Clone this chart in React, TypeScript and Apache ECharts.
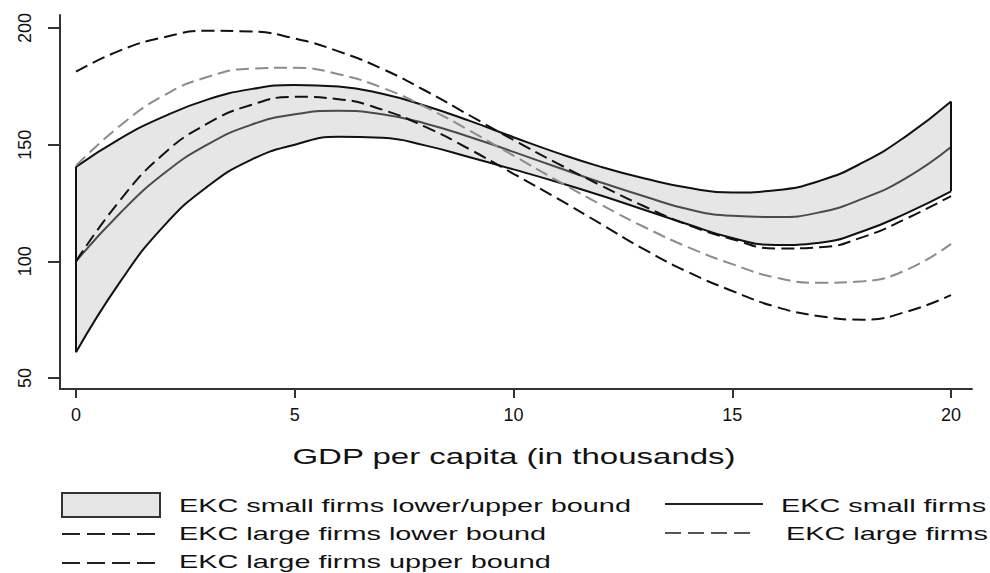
import React, { useEffect, useRef } from "react";
import * as echarts from "echarts";

const gdp = [0, 1, 2, 3, 4, 5, 6, 7, 8, 9, 10, 11, 12, 13, 14, 15, 16, 17, 18, 19, 20];
const smallLower = [61, 91, 115, 132, 143.5, 150, 153.4, 153, 149.6, 144.6, 139.4, 134, 128.2, 122, 115.8, 110, 107, 108, 113, 120.8, 130];
const smallUpper = [140.5, 152.5, 162, 169.3, 173.8, 175.6, 174.9, 171.8, 166.6, 160.2, 153.2, 146.5, 140.5, 135.5, 131.5, 129.5, 130.5, 134.5, 142.5, 154, 168.5];
const smallFit = [100, 120.5, 137.5, 150, 158.5, 163, 164.5, 163, 159, 153.3, 146.9, 140.3, 133.8, 127.8, 122.3, 119.5, 119, 121, 127, 136, 149];
const largeLower = [100, 126, 146, 159, 167, 170.5, 169.5, 165, 157.5, 148, 137.5, 127, 116, 105, 95.3, 87.3, 80.5, 76.5, 75, 78.5, 85.5];
const largeUpper = [181.3, 190.3, 196, 198.8, 198.5, 195.5, 190, 182.5, 173, 162.5, 152, 142, 132.5, 123.5, 115.5, 109.5, 105.5, 106, 110.5, 118.5, 128];
const largeFit = [141, 158, 171, 179, 182.6, 183, 180.2, 174.4, 166, 156, 145.3, 134.6, 124.3, 114.6, 106, 98.8, 93, 90.8, 91.5, 96.5, 107.5];

const xTicks = [0, 5, 10, 15, 20];
const yTicks = [50, 100, 150, 200];
const xTitle = "GDP per capita (in thousands)";
const legendNames = [
  "EKC small firms lower/upper bound",
  "EKC small firms",
  "EKC large firms lower bound",
  "EKC large firms",
  "EKC large firms upper bound",
];

const FONT = '"Liberation Sans", Arial, Helvetica, sans-serif';
const pairs = (ys: number[]) => gdp.map((x, i) => [x, ys[i]]);
const DASH = [13, 6];

export default function App() {
  const ref = useRef<HTMLDivElement>(null);
  useEffect(() => {
    document.body.style.margin = "0";
    const chart = echarts.init(ref.current!, undefined, { renderer: "svg" });
    const last = gdp.length - 1;
    const legendText = (text: string, x: number, y: number) => ({
      type: "text",
      x,
      y,
      scaleX: 1.56,
      style: {
        text,
        fontSize: 18.5,
        fontFamily: FONT,
        fill: "#111",
        textAlign: "left",
        textVerticalAlign: "middle",
      },
    });
    const option: any = {
      animation: false,
      backgroundColor: "#fff",
      grid: { left: 60, right: 18, top: 15, bottom: 184 },
      xAxis: {
        type: "value",
        min: -0.366,
        max: 20.48,
        z: 10,
        splitLine: { show: false },
        axisLine: { show: true, onZero: false, lineStyle: { color: "#333", width: 2 } },
        axisTick: { show: true, length: 9, customValues: xTicks, lineStyle: { color: "#333", width: 2 } },
        axisLabel: { customValues: xTicks, fontSize: 18, fontFamily: FONT, color: "#111", margin: 17 },
      },
      yAxis: {
        type: "value",
        min: 45.29,
        max: 205.57,
        z: 10,
        splitLine: { show: false },
        axisLine: { show: true, onZero: false, lineStyle: { color: "#333", width: 2 } },
        axisTick: { show: true, length: 12, customValues: yTicks, lineStyle: { color: "#333", width: 2 } },
        axisLabel: { customValues: yTicks, rotate: 90, fontSize: 18, fontFamily: FONT, color: "#111", margin: 26 },
      },
      series: [
        {
          name: legendNames[0],
          type: "line",
          smooth: true,
          symbol: "none",
          silent: true,
          lineStyle: { color: "#111", width: 2 },
          areaStyle: { color: "#e6e6e6", opacity: 1, origin: "start" },
          data: pairs(smallUpper),
          markLine: {
            silent: true,
            symbol: "none",
            label: { show: false },
            lineStyle: { color: "#111", width: 2, type: "solid" },
            data: [
              [{ coord: [gdp[0], smallLower[0]] }, { coord: [gdp[0], smallUpper[0]] }],
              [{ coord: [gdp[last], smallLower[last]] }, { coord: [gdp[last], smallUpper[last]] }],
            ],
          },
          z: 1,
        },
        {
          name: "smallLowerBound",
          type: "line",
          smooth: true,
          symbol: "none",
          silent: true,
          lineStyle: { color: "#111", width: 2 },
          areaStyle: { color: "#ffffff", opacity: 1, origin: "start" },
          data: pairs(smallLower),
          z: 2,
        },
        {
          name: legendNames[1],
          type: "line",
          smooth: true,
          symbol: "none",
          lineStyle: { color: "#4a4a4a", width: 2 },
          data: pairs(smallFit),
          z: 4,
        },
        {
          name: legendNames[3],
          type: "line",
          smooth: true,
          symbol: "none",
          lineStyle: { color: "#8c8c8c", width: 2, type: DASH },
          data: pairs(largeFit),
          z: 4,
        },
        {
          name: legendNames[2],
          type: "line",
          smooth: true,
          symbol: "none",
          lineStyle: { color: "#111", width: 2, type: DASH },
          data: pairs(largeLower),
          z: 5,
        },
        {
          name: legendNames[4],
          type: "line",
          smooth: true,
          symbol: "none",
          lineStyle: { color: "#111", width: 2, type: DASH },
          data: pairs(largeUpper),
          z: 5,
        },
      ],
      graphic: [
        {
          type: "text",
          x: 514,
          y: 457,
          scaleX: 1.5,
          style: {
            text: xTitle,
            fontSize: 22,
            fontFamily: FONT,
            fill: "#111",
            textAlign: "center",
            textVerticalAlign: "middle",
          },
        },
        {
          type: "rect",
          shape: { x: 62, y: 493, width: 98, height: 24 },
          style: { fill: "#e6e6e6", stroke: "#333", lineWidth: 2 },
        },
        legendText(legendNames[0], 179, 505.5),
        {
          type: "line",
          shape: { x1: 665, y1: 504, x2: 763, y2: 504 },
          style: { stroke: "#222", lineWidth: 2 },
        },
        legendText(legendNames[1], 781, 505.5),
        {
          type: "line",
          shape: { x1: 62, y1: 534, x2: 155, y2: 534 },
          style: { stroke: "#222", lineWidth: 2, lineDash: [18, 7] },
        },
        legendText(legendNames[2], 179, 533.5),
        {
          type: "line",
          shape: { x1: 665, y1: 533, x2: 750, y2: 533 },
          style: { stroke: "#555", lineWidth: 2, lineDash: [16, 7] },
        },
        legendText(legendNames[3], 786, 533.5),
        {
          type: "line",
          shape: { x1: 62, y1: 563, x2: 155, y2: 563 },
          style: { stroke: "#222", lineWidth: 2, lineDash: [18, 7] },
        },
        legendText(legendNames[4], 179, 562),
      ],
    };
    chart.setOption(option);
    return () => chart.dispose();
  }, []);
  return <div ref={ref} style={{ position: "absolute", left: 0, top: 0, width: 990, height: 573 }} />;
}
